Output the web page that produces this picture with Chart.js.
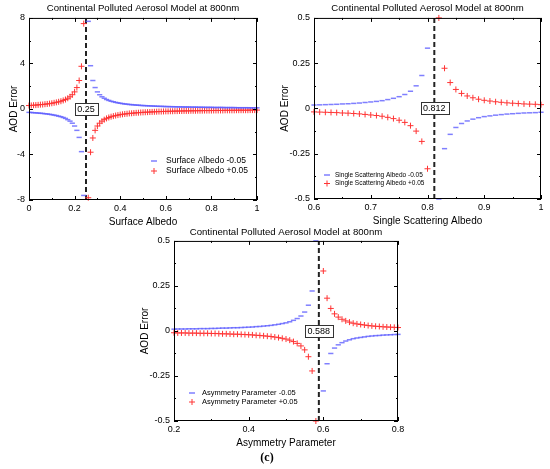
<!DOCTYPE html>
<html>
<head>
<meta charset="utf-8">
<script src="https://cdn.jsdelivr.net/npm/chart.js@4.4.1/dist/chart.umd.min.js"></script>
<style>
  body { margin: 0; background: #fff; width: 550px; height: 469px; position: relative; overflow: hidden; }
  canvas { position: absolute; }
  #c1 { left: 0; top: 0; }
  #c2 { left: 275px; top: 0; }
  #c3 { left: 130px; top: 222px; }
  #cap { position: absolute; left: 240px; width: 54px; top: 450px; text-align: center;
         font: bold 12px "Liberation Serif", "DejaVu Serif", serif; color: #000; }
</style>
</head>
<body>
<canvas id="c1" width="275" height="232"></canvas>
<canvas id="c2" width="275" height="232"></canvas>
<canvas id="c3" width="290" height="232"></canvas>
<div id="cap">(c)</div>
<script>
// (a) surface albedo
const saX = [0,0.01,0.02,0.03,0.04,0.05,0.06,0.07,0.08,0.09,0.1,0.11,0.12,0.13,0.14,0.15,0.16,0.17,0.18,0.19,0.2,0.21,0.22,0.23,0.24,
  0.26,0.27,0.28,0.29,0.3,0.31,0.32,0.33,0.34,0.35,0.36,0.37,0.38,0.39,0.4,0.41,0.42,0.43,0.44,0.45,0.46,0.47,0.48,0.49,0.5,
  0.51,0.52,0.53,0.54,0.55,0.56,0.57,0.58,0.59,0.6,0.61,0.62,0.63,0.64,0.65,0.66,0.67,0.68,0.69,0.7,0.71,0.72,0.73,0.74,0.75,
  0.76,0.77,0.78,0.79,0.8,0.81,0.82,0.83,0.84,0.85,0.86,0.87,0.88,0.89,0.9,0.91,0.92,0.93,0.94,0.95,0.96,0.97,0.98,0.99,1];
const saMinus = [-0.3,-0.31,-0.33,-0.34,-0.36,-0.38,-0.39,-0.42,-0.44,-0.47,-0.5,-0.54,-0.58,-0.63,-0.68,-0.75,-0.83,-0.94,-1.07,-1.25,-1.5,-1.88,-2.5,-3.75,-7.6,
  7.7,3.8,2.5,1.88,1.5,1.25,1.07,0.94,0.83,0.75,0.68,0.63,0.58,0.54,0.5,0.47,0.44,0.42,0.39,0.38,0.36,0.34,0.33,0.31,0.3,
  0.29,0.28,0.27,0.26,0.25,0.24,0.23,0.23,0.22,0.21,0.21,0.2,0.2,0.19,0.19,0.18,0.18,0.17,0.17,0.17,0.16,0.16,0.16,0.15,0.15,
  0.15,0.14,0.14,0.14,0.14,0.13,0.13,0.13,0.13,0.13,0.12,0.12,0.12,0.12,0.12,0.11,0.11,0.11,0.11,0.11,0.11,0.1,0.1,0.1,0.1];
const saPlus = [0.3,0.31,0.33,0.34,0.36,0.38,0.39,0.42,0.44,0.47,0.5,0.54,0.58,0.63,0.68,0.75,0.83,0.94,1.07,1.25,1.5,1.88,2.5,3.75,7.5,
  -7.8,-3.8,-2.55,-1.88,-1.5,-1.25,-1.07,-0.94,-0.83,-0.75,-0.68,-0.63,-0.58,-0.54,-0.5,-0.47,-0.44,-0.42,-0.39,-0.38,-0.36,-0.34,-0.33,-0.31,-0.3,
  -0.29,-0.28,-0.27,-0.26,-0.25,-0.24,-0.23,-0.23,-0.22,-0.21,-0.21,-0.2,-0.2,-0.19,-0.19,-0.18,-0.18,-0.17,-0.17,-0.17,-0.16,-0.16,-0.16,-0.15,-0.15,
  -0.15,-0.14,-0.14,-0.14,-0.14,-0.13,-0.13,-0.13,-0.13,-0.13,-0.12,-0.12,-0.12,-0.12,-0.12,-0.11,-0.11,-0.11,-0.11,-0.11,-0.11,-0.1,-0.1,-0.1,-0.1];
const saCut = 0.25;

// (b) single scattering albedo
const ssaX = [0.6,0.61,0.62,0.63,0.64,0.65,0.66,0.67,0.68,0.69,0.7,0.71,0.72,0.73,0.74,0.75,0.76,0.77,0.78,0.79,0.8,
  0.82,0.83,0.84,0.85,0.86,0.87,0.88,0.89,0.9,0.91,0.92,0.93,0.94,0.95,0.96,0.97,0.98,0.99,1];
const ssaMinus = [0.019,0.02,0.021,0.022,0.023,0.025,0.026,0.028,0.03,0.033,0.036,0.039,0.043,0.049,0.056,0.065,0.077,0.095,0.125,0.182,0.333,
  -0.5,-0.222,-0.143,-0.105,-0.083,-0.069,-0.059,-0.051,-0.045,-0.041,-0.037,-0.034,-0.031,-0.029,-0.027,-0.025,-0.024,-0.023,-0.021];
const ssaPlus = [-0.019,-0.02,-0.021,-0.022,-0.023,-0.025,-0.026,-0.028,-0.03,-0.033,-0.036,-0.039,-0.043,-0.049,-0.056,-0.065,-0.077,-0.095,-0.125,-0.182,-0.333,
  0.5,0.222,0.143,0.105,0.083,0.069,0.059,0.051,0.045,0.041,0.037,0.034,0.031,0.029,0.027,0.025,0.024,0.023,0.021];
const ssaCut = 0.812;

// (c) asymmetry parameter
const gX = [0.2,0.21,0.22,0.23,0.24,0.25,0.26,0.27,0.28,0.29,0.3,0.31,0.32,0.33,0.34,0.35,0.36,0.37,0.38,0.39,
  0.4,0.41,0.42,0.43,0.44,0.45,0.46,0.47,0.48,0.49,0.5,0.51,0.52,0.53,0.54,0.55,0.56,0.57,0.58,
  0.6,0.61,0.62,0.63,0.64,0.65,0.66,0.67,0.68,0.69,0.7,0.71,0.72,0.73,0.74,0.75,0.76,0.77,0.78,0.79,0.8];
const gMinus = [0.01,0.011,0.011,0.011,0.012,0.012,0.012,0.013,0.013,0.013,0.014,0.014,0.015,0.016,0.016,0.017,0.018,0.018,0.019,0.02,
  0.021,0.022,0.024,0.025,0.027,0.029,0.031,0.034,0.037,0.041,0.045,0.051,0.059,0.069,0.083,0.105,0.143,0.222,0.5,
  -0.333,-0.182,-0.125,-0.095,-0.077,-0.065,-0.056,-0.049,-0.043,-0.039,-0.036,-0.033,-0.03,-0.028,-0.026,-0.025,-0.023,-0.022,-0.021,-0.02,-0.019];
const gPlus = [-0.01,-0.011,-0.011,-0.011,-0.012,-0.012,-0.012,-0.013,-0.013,-0.013,-0.014,-0.014,-0.015,-0.016,-0.016,-0.017,-0.018,-0.018,-0.019,-0.02,
  -0.021,-0.022,-0.024,-0.025,-0.027,-0.029,-0.031,-0.034,-0.037,-0.041,-0.045,-0.051,-0.059,-0.069,-0.083,-0.105,-0.143,-0.222,-0.5,
  0.333,0.182,0.125,0.095,0.077,0.065,0.056,0.049,0.043,0.039,0.036,0.033,0.03,0.028,0.026,0.025,0.023,0.022,0.021,0.02,0.019];
const gCut = 0.588;

const plotTitle = 'Continental Polluted Aerosol Model at 800nm';
const FONT = '"Liberation Sans", Arial, sans-serif';
const BLUE = 'rgba(95,95,255,0.8)';
const RED = '#ff3434';

function pts(xs, ys) {
  return xs.map((x, i) => ({ x: x, y: ys[i] }));
}

// plain tick text, e.g. 0.25 instead of 0.3
const tickText = v => String(+v.toFixed(3));

// frame with inward ticks, cut-off label box and a small legend
const decor = {
  id: 'decor',
  afterDraw(chart, args, o) {
    const { ctx, chartArea: a, scales: { x, y } } = chart;
    ctx.save();
    ctx.strokeStyle = '#000';
    ctx.lineWidth = 1;
    ctx.strokeRect(a.left + 0.5, a.top + 0.5, a.right - a.left - 1, a.bottom - a.top - 1);

    const marks = (scale) => {
      const v = scale.ticks.map(t => t.value);
      const out = [];
      v.forEach((val, i) => {
        out.push([scale.getPixelForValue(val), 4]);
        if (i < v.length - 1) out.push([scale.getPixelForValue((val + v[i + 1]) / 2), 2]);
      });
      return out;
    };
    ctx.beginPath();
    marks(x).forEach(([p, l]) => {
      p = Math.round(p) + 0.5;
      ctx.moveTo(p, a.bottom); ctx.lineTo(p, a.bottom - l);
      ctx.moveTo(p, a.top); ctx.lineTo(p, a.top + l);
    });
    marks(y).forEach(([p, l]) => {
      p = Math.round(p) + 0.5;
      ctx.moveTo(a.left, p); ctx.lineTo(a.left + l, p);
      ctx.moveTo(a.right, p); ctx.lineTo(a.right - l, p);
    });
    ctx.stroke();

    // value box on the dashed line
    const bx = x.getPixelForValue(o.cut);
    const by = y.getPixelForValue(0);
    ctx.font = '9px ' + FONT;
    const txt = String(o.cut);
    const w = ctx.measureText(txt).width + 5;
    const h = 12;
    ctx.fillStyle = '#fff';
    ctx.fillRect(bx - w / 2, by - h / 2, w, h);
    ctx.strokeStyle = '#333';
    ctx.strokeRect(Math.round(bx - w / 2) + 0.5, Math.round(by - h / 2) + 0.5, Math.round(w), h);
    ctx.fillStyle = '#000';
    ctx.textAlign = 'center';
    ctx.textBaseline = 'middle';
    ctx.fillText(txt, bx, by + 0.5);

    // legend
    const L = o.legend;
    ctx.font = L.size + 'px ' + FONT;
    ctx.textAlign = 'left';
    o.names.forEach((name, i) => {
      const ly = L.y + i * L.gap;
      ctx.beginPath();
      if (i === 0) {
        ctx.strokeStyle = BLUE; ctx.lineWidth = 1.5;
        ctx.moveTo(L.x - 3, ly); ctx.lineTo(L.x + 3, ly);
      } else {
        ctx.strokeStyle = RED; ctx.lineWidth = 1;
        ctx.moveTo(L.x - 3, ly); ctx.lineTo(L.x + 3, ly);
        ctx.moveTo(L.x, ly - 3); ctx.lineTo(L.x, ly + 3);
      }
      ctx.stroke();
      ctx.fillStyle = '#000';
      ctx.fillText(name, L.x + L.textGap, ly);
    });
    ctx.restore();
  }
};

function makeChart(id, s) {
  return new Chart(document.getElementById(id), {
    type: 'scatter',
    data: {
      datasets: [
        { label: s.names[0], data: pts(s.xs, s.minus), pointStyle: 'line', pointRadius: 2.6,
          borderColor: BLUE, borderWidth: 1.5, clip: false },
        { label: s.names[1], data: pts(s.xs, s.plus), pointStyle: 'cross', pointRadius: 3,
          borderColor: RED, borderWidth: 1, clip: false },
        { type: 'line', label: 'cut', data: [{ x: s.cut, y: s.yMin }, { x: s.cut, y: s.yMax }],
          borderColor: '#222', borderWidth: 2, borderDash: [5, 3], pointRadius: 0, showLine: true }
      ]
    },
    options: {
      responsive: false,
      animation: false,
      events: [],
      layout: { padding: { left: 0, right: s.padR, top: 0, bottom: 0 } },
      plugins: {
        legend: { display: false },
        tooltip: { enabled: false },
        title: { display: true, text: plotTitle, color: '#000', fullSize: false,
          font: { family: FONT, size: 9.6, weight: 'normal' }, padding: s.titlePad },
        decor: { cut: s.cut, names: s.names, legend: s.legend }
      },
      scales: {
        x: {
          type: 'linear', min: s.xMin, max: s.xMax,
          afterFit: sc => { sc.height = s.xH; },
          grid: { display: false, drawTicks: false },
          border: { display: false },
          ticks: { stepSize: s.xStep, color: '#000', padding: 3, font: { family: FONT, size: 9 }, callback: tickText },
          title: { display: true, text: s.xLabel, color: '#000', font: { family: FONT, size: 10 },
            padding: { top: 0, bottom: s.xTitlePad } }
        },
        y: {
          type: 'linear', min: s.yMin, max: s.yMax,
          afterFit: sc => { sc.width = s.yW; },
          grid: { display: false, drawTicks: false },
          border: { display: false },
          ticks: { stepSize: s.yStep, color: '#000', padding: 4, font: { family: FONT, size: 9 }, callback: tickText },
          title: { display: true, text: 'AOD Error', color: '#000', font: { family: FONT, size: 10 },
            padding: { top: s.yTitlePad, bottom: 0 } }
        }
      }
    },
    plugins: [decor]
  });
}

makeChart('c1', {
  xs: saX, minus: saMinus, plus: saPlus, cut: saCut,
  names: ['Surface Albedo -0.05', 'Surface Albedo +0.05'], xLabel: 'Surface Albedo',
  xMin: 0, xMax: 1, xStep: 0.2, yMin: -8, yMax: 8, yStep: 4,
  yW: 29, xH: 32, padR: 18, titlePad: { top: 2.7, bottom: 3.7 }, xTitlePad: 4, yTitlePad: 8,
  legend: { x: 154, y: 161, gap: 10, size: 8.5, textGap: 12 }
});

makeChart('c2', {
  xs: ssaX, minus: ssaMinus, plus: ssaPlus, cut: ssaCut,
  names: ['Single Scattering Albedo -0.05', 'Single Scattering Albedo +0.05'], xLabel: 'Single Scattering Albedo',
  xMin: 0.6, xMax: 1, xStep: 0.1, yMin: -0.5, yMax: 0.5, yStep: 0.25,
  yW: 39, xH: 33, padR: 9, titlePad: { top: 2.7, bottom: 3.7 }, xTitlePad: 5, yTitlePad: 4.5,
  legend: { x: 52, y: 175, gap: 8.5, size: 6.5, textGap: 8 }
});

makeChart('c3', {
  xs: gX, minus: gMinus, plus: gPlus, cut: gCut,
  names: ['Asymmetry Parameter -0.05', 'Asymmetry Parameter +0.05'], xLabel: 'Asymmetry Parameter',
  xMin: 0.2, xMax: 0.8, xStep: 0.2, yMin: -0.5, yMax: 0.5, yStep: 0.25,
  yW: 44, xH: 33, padR: 22, titlePad: { top: 4.2, bottom: 3.2 }, xTitlePad: 5, yTitlePad: 9,
  legend: { x: 62, y: 171, gap: 9, size: 7.5, textGap: 10 }
});
</script>
</body>
</html>
